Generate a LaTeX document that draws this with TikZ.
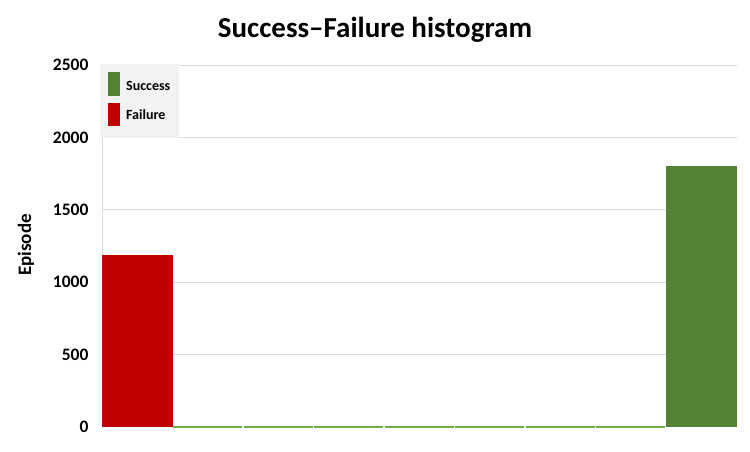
\documentclass[tikz,border=0pt]{standalone}
\usepackage{fontspec}
\setmainfont{Carlito}
\definecolor{failred}{HTML}{C00000}
\definecolor{succgreen}{HTML}{548235}
\definecolor{zerogreen}{HTML}{70AD47}
\definecolor{gridgray}{HTML}{D9D9D9}
\definecolor{legendgray}{HTML}{F2F2F2}
\tikzset{
  gridline/.style={gridgray, line width=1pt},
  zerobar/.style={zerogreen, line width=1.6pt},
  ticklabel/.style={anchor=east, font=\bfseries\fontsize{17.5}{19}\selectfont, inner sep=0pt},
  legendtext/.style={anchor=west, font=\bfseries\fontsize{14}{16}\selectfont, inner sep=0pt}
}
\begin{document}
\begin{tikzpicture}[x=1pt,y=1pt]
		\useasboundingbox[fill=white] (0,0) rectangle (750,451);

		\node[font=\bfseries\fontsize{29}{32}\selectfont] (title) at (375,421) {Success--Failure histogram};
		\node[rotate=90, font=\bfseries\fontsize{19}{22}\selectfont] (ylabel) at (26,206) {Episode};

		\begin{scope}[shift={(102,24.3)}, x=70.5pt, y=0.1446pt]
		\draw[gridline] (0,500) -- (9,500);
		\draw[gridline] (0,1000) -- (9,1000);
		\draw[gridline] (0,1500) -- (9,1500);
		\draw[gridline] (0,2000) -- (9,2000);
		\draw[gridline] (0,2500) -- (9,2500);
		\draw[gridline] (0,0) -- (0,2500);
		\draw[gridline] (0,0) -- (9,0);

		\node[ticklabel] (t0) at (-0.19,0) {0};
		\node[ticklabel] (t500) at (-0.19,500) {500};
		\node[ticklabel] (t1000) at (-0.19,1000) {1000};
		\node[ticklabel] (t1500) at (-0.19,1500) {1500};
		\node[ticklabel] (t2000) at (-0.19,2000) {2000};
		\node[ticklabel] (t2500) at (-0.19,2500) {2500};

		\fill[failred] (0,0) rectangle (1,1190);
		\fill[succgreen] (8,0) rectangle (9,1800);

		\draw[zerobar] (1.01,0) -- (1.99,0);
		\draw[zerobar] (2.01,0) -- (2.99,0);
		\draw[zerobar] (3.01,0) -- (3.99,0);
		\draw[zerobar] (4.01,0) -- (4.99,0);
		\draw[zerobar] (5.01,0) -- (5.99,0);
		\draw[zerobar] (6.01,0) -- (6.99,0);
		\draw[zerobar] (7.01,0) -- (7.99,0);
		\end{scope}

		\fill[legendgray] (100,313) rectangle (179,387);
		\fill[succgreen] (107.7,355.3) rectangle (120,379);
		\fill[failred] (107.7,325) rectangle (120,348.3);
		\node[legendtext] (lsucc) at (126,365) {Success};
		\node[legendtext] (lfail) at (126,336) {Failure};
	\end{tikzpicture}
\end{document}
